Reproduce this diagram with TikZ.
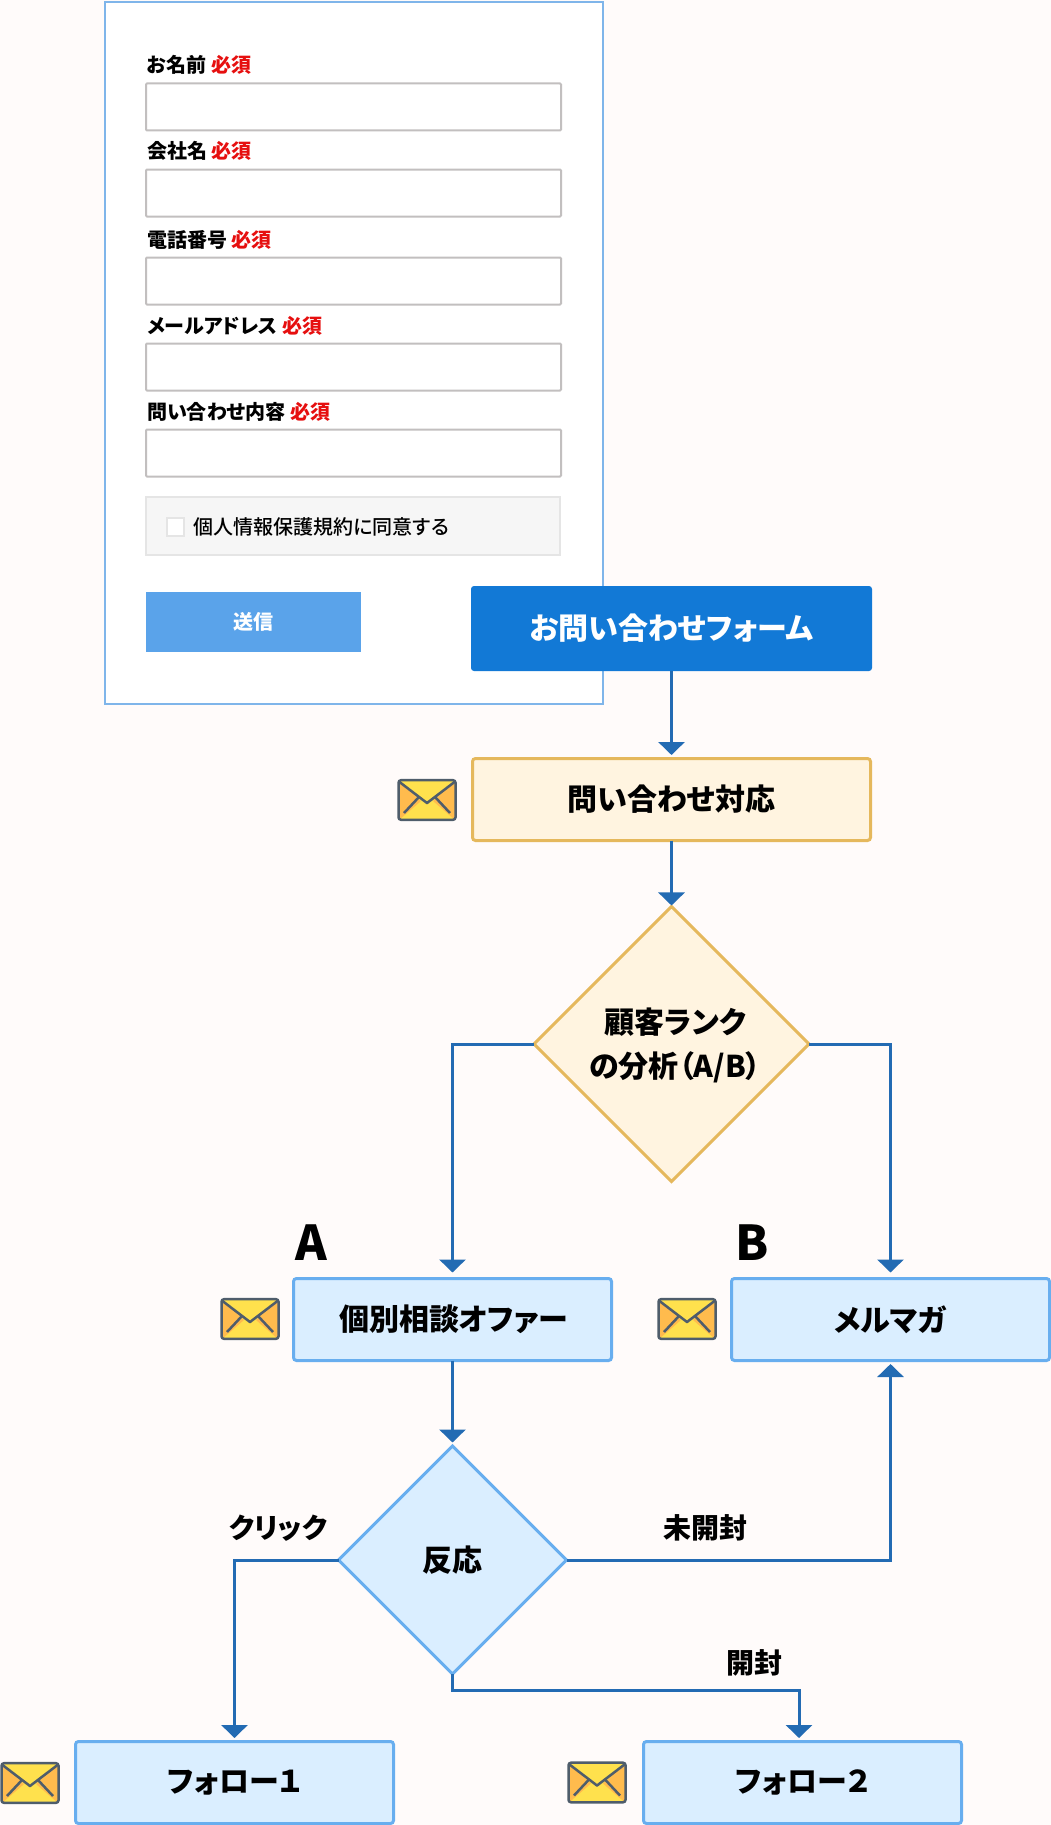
\documentclass[tikz,border=0pt]{standalone}
\usepackage{fontspec}
\setmainfont[RawFeature={+palt}]{Noto Sans CJK JP}
\newfontfamily\mediumfont[RawFeature={+palt}]{Noto Sans CJK JP Medium}
\usetikzlibrary{arrows.meta,shapes.geometric}
\definecolor{pagebg}{HTML}{FFFBFA}
\definecolor{cardline}{HTML}{7FB5EA}
\definecolor{fieldline}{HTML}{C2BFBF}
\definecolor{reqred}{HTML}{E60F0F}
\definecolor{consentbg}{HTML}{F6F6F6}
\definecolor{consentline}{HTML}{E5E5E5}
\definecolor{sendblue}{HTML}{5AA3EA}
\definecolor{formblue}{HTML}{1279D6}
\definecolor{creamfill}{HTML}{FFF4E0}
\definecolor{creamline}{HTML}{E5B85C}
\definecolor{skyfill}{HTML}{DAEEFF}
\definecolor{skyline}{HTML}{68AEEF}
\definecolor{arrowblue}{HTML}{236BB3}
\definecolor{mailline}{HTML}{4F5D6B}
\definecolor{mailorange}{HTML}{FFBB4D}
\definecolor{mailyellow}{HTML}{FFE14D}
\tikzset{
  boxbase/.style={rectangle,inner sep=0pt,outer sep=0pt,rounded corners=3pt,line width=3pt,
    font=\fontsize{30}{44}\selectfont\bfseries,align=center},
  creambox/.style={boxbase,draw=creamline,fill=creamfill,minimum width=398pt,minimum height=82pt},
  skybox/.style={boxbase,draw=skyline,fill=skyfill,minimum width=318pt,minimum height=82pt},
  creamdia/.style={diamond,aspect=1,inner sep=0pt,outer sep=0pt,line width=3pt,draw=creamline,fill=creamfill,
    minimum width=275pt,minimum height=275pt},
  skydia/.style={diamond,aspect=1,inner sep=0pt,outer sep=0pt,line width=3pt,draw=skyline,fill=skyfill,
    minimum width=228pt,minimum height=228pt,font=\fontsize{30}{44}\selectfont\bfseries,align=center},
  field/.style={rectangle,inner sep=0pt,outer sep=0pt,draw=fieldline,fill=white,line width=2pt,rounded corners=1pt,
    minimum width=415pt,minimum height=47pt},
  fieldlabel/.style={anchor=west,inner sep=0pt,font=\fontsize{20}{20}\selectfont\bfseries},
  flowlabel/.style={inner sep=0pt,font=\fontsize{28}{28}\selectfont\bfseries},
  ranklabel/.style={inner sep=0pt,font=\fontsize{48}{48}\selectfont\bfseries},
  flow/.style={draw=arrowblue,line width=3pt,-{Triangle[width=26pt,length=13pt]},shorten >=3.5pt},
  mailicon/.pic={
    \fill[mailyellow] (-28,-20) rectangle (28,20);
    \fill[mailorange] (-28,-19)--(-6,1)--(-28,20)--cycle;
    \fill[mailorange] (28,-19)--(6,1)--(28,20)--cycle;
    \draw[mailline,line width=2.5pt,line join=round] (-27.5,-18)--(0,3)--(27.5,-18);
    \draw[mailline,line width=2.5pt] (-8,-3)--(-23,13);
    \draw[mailline,line width=2.5pt] (8,-3)--(23,13);
    \draw[mailline,line width=2.5pt,rounded corners=2.5pt] (-28.5,-19.8) rectangle (28.5,19.8);
  }
}
\begin{document}
\begin{tikzpicture}[x=1pt,y=-1pt]
\fill[pagebg] (0,0) rectangle (1051,1825);
\useasboundingbox (0,0) rectangle (1051,1825);

% form card
\node[rectangle,inner sep=0pt,outer sep=0pt,draw=cardline,fill=white,line width=2pt,
  minimum width=498pt,minimum height=702pt] (card) at (354,353) {};
\foreach \n/\ylab/\ybox/\txt in {
  name/65/107/お名前,
  company/151/193/会社名,
  phone/240/281/電話番号,
  mail/326/367/メールアドレス,
  inquiry/412/453/問い合わせ内容} {
\node[fieldlabel] (lab\n) at (147,\ylab) {\txt{} \textcolor{reqred}{必須}};
\node[field] (field\n) at (353.5,\ybox) {};
}
\node[rectangle,inner sep=0pt,outer sep=0pt,draw=consentline,fill=consentbg,line width=2pt,
  minimum width=414pt,minimum height=58pt] (consent) at (353,526) {};
\node[rectangle,inner sep=0pt,outer sep=0pt,draw=consentline,fill=white,line width=2pt,
  minimum width=17pt,minimum height=18pt] (check) at (175,527) {};
\node[anchor=west,inner sep=0pt,font=\fontsize{20}{20}\selectfont\mediumfont] (consenttext) at (193.5,527) {個人情報保護規約に同意する};
\node[rectangle,inner sep=0pt,outer sep=0pt,fill=sendblue,minimum width=215pt,minimum height=60pt,
  text=white,font=\fontsize{20}{20}\selectfont\bfseries] (send) at (253.5,621.5) {送信};

% flow
\node[rectangle,inner sep=0pt,outer sep=0pt,rounded corners=3pt,fill=formblue,minimum width=401pt,minimum height=85pt,
  text=white,font=\fontsize{30}{30}\selectfont\bfseries] (form) at (671.5,628.5) {お問い合わせフォーム};
\node[creambox] (answer) at (671.5,799.5) {問い合わせ対応};
\node[creamdia] (rank) at (671.5,1044) {};
\node[inner sep=0pt,align=center,font=\fontsize{30}{44}\selectfont\bfseries] (ranktext) at (675,1045) {顧客ランク\\の分析（A/B）};
\node[skybox] (offer) at (452.5,1319.5) {\hspace{2pt}個別相談オファー};
\node[skybox] (magazine) at (890.5,1319.5) {メルマガ};
\node[skydia] (react) at (452.5,1560) {反応};
\node[skybox] (followone) at (234.5,1782.5) {フォロー１};
\node[skybox] (followtwo) at (802.5,1782.5) {フォロー２};

\node[ranklabel] (ranka) at (311.5,1242.5) {A};
\node[ranklabel] (rankb) at (752.5,1242.5) {B};
\node[flowlabel] (click) at (278,1528) {クリック};
\node[flowlabel] (unopened) at (705,1528) {未開封};
\node[flowlabel] (opened) at (754,1663) {開封};

\draw[flow] (form) -- (answer);
\draw[flow,shorten >=1pt] (answer) -- (rank);
\draw[flow,shorten >=6pt] (rank.west) -| (offer.north);
\draw[flow,shorten >=6pt] (rank.east) -| (magazine.north);
\draw[flow] (offer) -- (react);
\draw[flow] (react.east) -| (magazine.south);
\draw[flow] (react.west) -| (followone.north);
\draw[flow] (react.south) -- ++(0,16) -| ([xshift=-3.5pt]followtwo.north);

\pic (mailanswer) at (427,800) {mailicon};
\pic (mailoffer) at (250,1319) {mailicon};
\pic (mailmagazine) at (687,1319) {mailicon};
\pic (mailone) at (30,1783) {mailicon};
\pic (mailtwo) at (597,1782.5) {mailicon};
\end{tikzpicture}
\end{document}
